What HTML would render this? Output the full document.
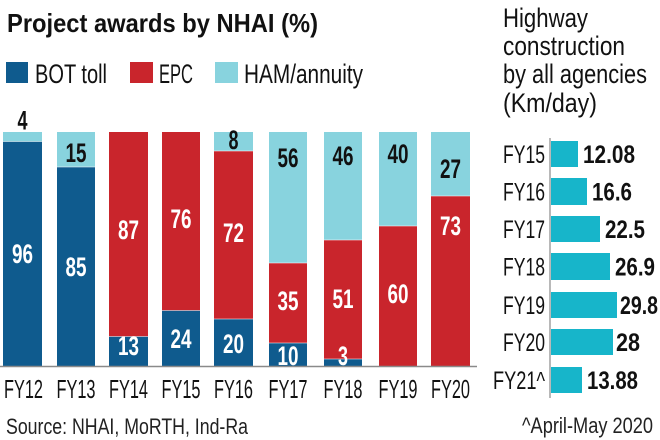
<!DOCTYPE html>
<html><head><meta charset="utf-8"><style>
html,body{margin:0;padding:0;background:#fff;}
svg{display:block;}
text{font-family:"Liberation Sans",sans-serif;}
</style></head><body>
<svg width="660" height="440" viewBox="0 0 660 440" xmlns="http://www.w3.org/2000/svg">
<rect width="660" height="440" fill="#fff"/>
<!-- Title -->
<text x="7" y="32" font-size="26" font-weight="bold" fill="#111" textLength="311" lengthAdjust="spacingAndGlyphs">Project awards by NHAI (%)</text>
<!-- Legend -->
<rect x="6" y="62" width="22" height="21" fill="#0f5b8e"/>
<text x="35" y="83" font-size="27" fill="#111" textLength="72" lengthAdjust="spacingAndGlyphs">BOT toll</text>
<rect x="130" y="62" width="23" height="21" fill="#c9252c"/>
<text x="159" y="83" font-size="27" fill="#111" textLength="34" lengthAdjust="spacingAndGlyphs">EPC</text>
<rect x="215" y="62" width="23" height="21" fill="#88d3de"/>
<text x="244" y="83" font-size="27" fill="#111" textLength="119" lengthAdjust="spacingAndGlyphs">HAM/annuity</text>

<!-- Bars: top 132, base 366 -->
<g>
<rect x="3" y="132" width="39" height="9.5" fill="#88d3de"/>
<rect x="3" y="141.5" width="39" height="224.5" fill="#0f5b8e"/>
<rect x="57" y="132" width="38" height="35" fill="#88d3de"/>
<rect x="57" y="167" width="38" height="199" fill="#0f5b8e"/>
<rect x="109" y="132" width="39" height="204.5" fill="#c9252c"/>
<rect x="109" y="336.5" width="39" height="29.5" fill="#0f5b8e"/>
<rect x="162" y="132" width="38" height="178.5" fill="#c9252c"/>
<rect x="162" y="310.5" width="38" height="55.5" fill="#0f5b8e"/>
<rect x="214" y="132" width="39" height="19" fill="#88d3de"/>
<rect x="214" y="151" width="39" height="168" fill="#c9252c"/>
<rect x="214" y="319" width="39" height="47" fill="#0f5b8e"/>
<rect x="269" y="132" width="38" height="131" fill="#88d3de"/>
<rect x="269" y="263" width="38" height="80" fill="#c9252c"/>
<rect x="269" y="343" width="38" height="23" fill="#0f5b8e"/>
<rect x="324" y="132" width="38" height="108" fill="#88d3de"/>
<rect x="324" y="240" width="38" height="119" fill="#c9252c"/>
<rect x="324" y="359" width="38" height="7" fill="#0f5b8e"/>
<rect x="379" y="132" width="38" height="94" fill="#88d3de"/>
<rect x="379" y="226" width="38" height="140" fill="#c9252c"/>
<rect x="431" y="132" width="39" height="64" fill="#88d3de"/>
<rect x="431" y="196" width="39" height="170" fill="#c9252c"/>
</g>
<!-- thin separators -->
<g stroke="#ffffff" stroke-width="0.8" opacity="0.7">
<line x1="3" y1="141.5" x2="42" y2="141.5"/>
<line x1="57" y1="167" x2="95" y2="167"/>
<line x1="109" y1="336.5" x2="148" y2="336.5"/>
<line x1="162" y1="310.5" x2="200" y2="310.5"/>
<line x1="214" y1="151" x2="253" y2="151"/>
<line x1="214" y1="319" x2="253" y2="319"/>
<line x1="269" y1="263" x2="307" y2="263"/>
<line x1="269" y1="343" x2="307" y2="343"/>
<line x1="324" y1="240" x2="362" y2="240"/>
<line x1="324" y1="359" x2="362" y2="359"/>
<line x1="379" y1="226" x2="417" y2="226"/>
<line x1="431" y1="196" x2="470" y2="196"/>
</g>
<line x1="0" y1="366.5" x2="477" y2="366.5" stroke="#8a8a8a" stroke-width="1.5"/>

<!-- Bar labels -->
<g font-size="27" font-weight="bold" text-anchor="middle">
<text x="22.5" y="129.5" fill="#111" textLength="10" lengthAdjust="spacingAndGlyphs">4</text>
<text x="22.5" y="263" fill="#fff" textLength="21" lengthAdjust="spacingAndGlyphs">96</text>
<text x="76" y="162" fill="#111" textLength="21" lengthAdjust="spacingAndGlyphs">15</text>
<text x="76" y="276" fill="#fff" textLength="21" lengthAdjust="spacingAndGlyphs">85</text>
<text x="128.5" y="239" fill="#fff" textLength="21" lengthAdjust="spacingAndGlyphs">87</text>
<text x="128.5" y="355" fill="#fff" textLength="21" lengthAdjust="spacingAndGlyphs">13</text>
<text x="181" y="228" fill="#fff" textLength="21" lengthAdjust="spacingAndGlyphs">76</text>
<text x="181" y="348" fill="#fff" textLength="21" lengthAdjust="spacingAndGlyphs">24</text>
<text x="233.5" y="149" fill="#111" textLength="10" lengthAdjust="spacingAndGlyphs">8</text>
<text x="233.5" y="242" fill="#fff" textLength="21" lengthAdjust="spacingAndGlyphs">72</text>
<text x="233.5" y="353" fill="#fff" textLength="21" lengthAdjust="spacingAndGlyphs">20</text>
<text x="288" y="167" fill="#111" textLength="21" lengthAdjust="spacingAndGlyphs">56</text>
<text x="288" y="310" fill="#fff" textLength="21" lengthAdjust="spacingAndGlyphs">35</text>
<text x="288" y="365" fill="#fff" textLength="21" lengthAdjust="spacingAndGlyphs">10</text>
<text x="343" y="165" fill="#111" textLength="21" lengthAdjust="spacingAndGlyphs">46</text>
<text x="343" y="308" fill="#fff" textLength="21" lengthAdjust="spacingAndGlyphs">51</text>
<text x="343" y="365" fill="#fff" textLength="10" lengthAdjust="spacingAndGlyphs">3</text>
<text x="398" y="163" fill="#111" textLength="21" lengthAdjust="spacingAndGlyphs">40</text>
<text x="398" y="303" fill="#fff" textLength="21" lengthAdjust="spacingAndGlyphs">60</text>
<text x="450.5" y="178" fill="#111" textLength="21" lengthAdjust="spacingAndGlyphs">27</text>
<text x="450.5" y="235" fill="#fff" textLength="21" lengthAdjust="spacingAndGlyphs">73</text>
</g>

<!-- X labels -->
<g font-size="26" fill="#111" text-anchor="middle">
<text x="23.5" y="398" textLength="39" lengthAdjust="spacingAndGlyphs">FY12</text>
<text x="76" y="398" textLength="39" lengthAdjust="spacingAndGlyphs">FY13</text>
<text x="128.5" y="398" textLength="39" lengthAdjust="spacingAndGlyphs">FY14</text>
<text x="181" y="398" textLength="39" lengthAdjust="spacingAndGlyphs">FY15</text>
<text x="233.5" y="398" textLength="39" lengthAdjust="spacingAndGlyphs">FY16</text>
<text x="288" y="398" textLength="39" lengthAdjust="spacingAndGlyphs">FY17</text>
<text x="343" y="398" textLength="39" lengthAdjust="spacingAndGlyphs">FY18</text>
<text x="398" y="398" textLength="39" lengthAdjust="spacingAndGlyphs">FY19</text>
<text x="450.5" y="398" textLength="39" lengthAdjust="spacingAndGlyphs">FY20</text>
</g>

<!-- Source -->
<text x="6" y="434" font-size="22" fill="#222" textLength="242" lengthAdjust="spacingAndGlyphs">Source: NHAI, MoRTH, Ind-Ra</text>

<!-- Right panel title -->
<g font-size="27" fill="#111">
<text x="503" y="27" textLength="85" lengthAdjust="spacingAndGlyphs">Highway</text>
<text x="503" y="55" textLength="122" lengthAdjust="spacingAndGlyphs">construction</text>
<text x="503" y="83" textLength="144" lengthAdjust="spacingAndGlyphs">by all agencies</text>
<text x="503" y="112" textLength="94" lengthAdjust="spacingAndGlyphs">(Km/day)</text>
</g>

<!-- Right bars -->
<g fill="#17b5ca">
<rect x="551" y="141" width="27" height="26"/>
<rect x="551" y="178" width="36" height="27"/>
<rect x="551" y="216" width="49" height="26"/>
<rect x="551" y="253" width="59" height="27"/>
<rect x="551" y="292" width="66" height="26"/>
<rect x="551" y="329" width="62" height="26"/>
<rect x="551" y="367" width="31" height="26"/>
</g>
<line x1="550" y1="138" x2="550" y2="398" stroke="#8a8a8a" stroke-width="1.2"/>

<g font-size="25" fill="#111" text-anchor="end">
<text x="545" y="163" textLength="42" lengthAdjust="spacingAndGlyphs">FY15</text>
<text x="545" y="200.5" textLength="42" lengthAdjust="spacingAndGlyphs">FY16</text>
<text x="545" y="238" textLength="42" lengthAdjust="spacingAndGlyphs">FY17</text>
<text x="545" y="275.5" textLength="42" lengthAdjust="spacingAndGlyphs">FY18</text>
<text x="545" y="314" textLength="42" lengthAdjust="spacingAndGlyphs">FY19</text>
<text x="545" y="351" textLength="42" lengthAdjust="spacingAndGlyphs">FY20</text>
<text x="545" y="389" textLength="52" lengthAdjust="spacingAndGlyphs">FY21^</text>
</g>
<g font-size="25" font-weight="bold" fill="#111">
<text x="583" y="163" textLength="52" lengthAdjust="spacingAndGlyphs">12.08</text>
<text x="592" y="200.5" textLength="40" lengthAdjust="spacingAndGlyphs">16.6</text>
<text x="605" y="238" textLength="40" lengthAdjust="spacingAndGlyphs">22.5</text>
<text x="615" y="275.5" textLength="40" lengthAdjust="spacingAndGlyphs">26.9</text>
<text x="620" y="314" textLength="38" lengthAdjust="spacingAndGlyphs">29.8</text>
<text x="616" y="351" textLength="24" lengthAdjust="spacingAndGlyphs">28</text>
<text x="587" y="389" textLength="51" lengthAdjust="spacingAndGlyphs">13.88</text>
</g>

<text x="522" y="433" font-size="22" fill="#222" textLength="131" lengthAdjust="spacingAndGlyphs">^April-May 2020</text>
</svg>
</body></html>
